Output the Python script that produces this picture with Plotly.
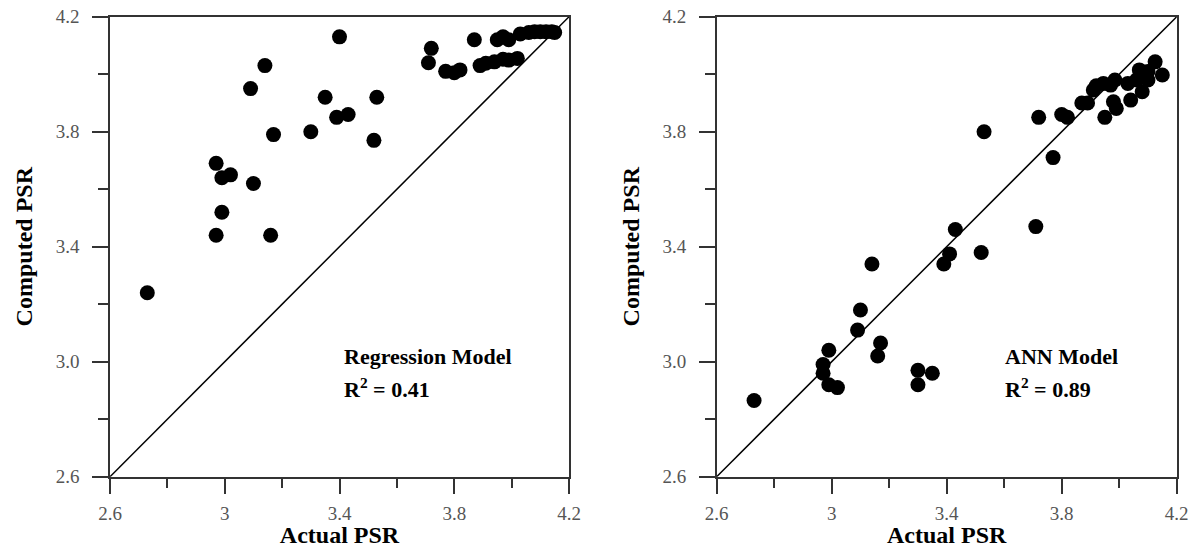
import plotly.graph_objects as go

# ---------------- data ----------------
reg_actual = [2.73, 2.97, 2.99, 3.02, 3.10, 2.99, 2.97, 3.09, 3.14, 3.17, 3.16,
              3.30, 3.35, 3.40, 3.39, 3.43, 3.52, 3.53, 3.71, 3.72, 3.77, 3.80,
              3.82, 3.87, 3.89, 3.91, 3.94, 3.97, 3.99, 4.02, 3.95, 3.97, 3.99,
              4.03, 4.06, 4.08, 4.10, 4.12, 4.14, 4.15]
reg_computed = [3.24, 3.69, 3.64, 3.65, 3.62, 3.52, 3.44, 3.95, 4.03, 3.79, 3.44,
                3.80, 3.92, 4.13, 3.85, 3.86, 3.77, 3.92, 4.04, 4.09, 4.01, 4.005,
                4.015, 4.12, 4.03, 4.038, 4.043, 4.052, 4.049, 4.055, 4.12, 4.13, 4.12,
                4.14, 4.145, 4.148, 4.148, 4.148, 4.148, 4.145]

ann_actual = [2.73, 2.99, 2.97, 2.97, 2.99, 3.02, 3.09, 3.10, 3.14, 3.17, 3.16,
              3.30, 3.30, 3.35, 3.39, 3.41, 3.43, 3.52, 3.53, 3.71, 3.72, 3.77,
              3.80, 3.82, 3.87, 3.89, 3.91, 3.92, 3.945, 3.97, 3.985, 3.95, 3.98,
              3.99, 4.03, 4.04, 4.06, 4.07, 4.08, 4.10, 4.10, 4.125, 4.15]
ann_computed = [2.865, 3.04, 2.99, 2.96, 2.92, 2.91, 3.11, 3.18, 3.34, 3.065, 3.02,
                2.97, 2.92, 2.96, 3.34, 3.375, 3.46, 3.38, 3.80, 3.47, 3.85, 3.71,
                3.86, 3.85, 3.90, 3.90, 3.945, 3.96, 3.968, 3.962, 3.98, 3.85, 3.904,
                3.881, 3.968, 3.91, 3.98, 4.015, 3.939, 3.98, 4.009, 4.043, 3.997]

line_ends = [2.6, 4.2]
x_tickvals = [2.6, 3.0, 3.4, 3.8, 4.2]
x_ticktext = ["2.6", "3", "3.4", "3.8", "4.2"]
y_tickvals = [2.6, 3.0, 3.4, 3.8, 4.2]
y_ticktext = ["2.6", "3.0", "3.4", "3.8", "4.2"]

panel_labels = ["Regression Model", "ANN Model"]
r2_labels = ["R<sup>2</sup> = 0.41", "R<sup>2</sup> = 0.89"]
x_title = "Actual PSR"
y_title = "Computed PSR"

# ---------------- figure ----------------
SERIF = "Liberation Serif, Times New Roman, serif"
fig = go.Figure()

marker = dict(color="black", size=15, line=dict(width=0))

fig.add_trace(go.Scatter(x=reg_actual, y=reg_computed, mode="markers",
                         marker=marker, xaxis="x", yaxis="y", showlegend=False))
fig.add_trace(go.Scatter(x=line_ends, y=line_ends, mode="lines",
                         line=dict(color="black", width=1.5), xaxis="x", yaxis="y",
                         showlegend=False))
fig.add_trace(go.Scatter(x=ann_actual, y=ann_computed, mode="markers",
                         marker=marker, xaxis="x2", yaxis="y2", showlegend=False))
fig.add_trace(go.Scatter(x=line_ends, y=line_ends, mode="lines",
                         line=dict(color="black", width=1.5), xaxis="x2", yaxis="y2",
                         showlegend=False))

W, H = 1194, 548
ydom = [1 - 476.7 / H, 1 - 16.7 / H]
xdom1 = [110 / W, 569 / W]
xdom2 = [716.7 / W, 1176.7 / W]

tickfont = dict(family=SERIF, size=19, color="#555")
titlefont = dict(family=SERIF, size=24, color="black", weight="bold")


def xaxis(domain, anchor):
    return dict(domain=domain, anchor=anchor, range=line_ends, automargin=False,
                tickmode="array", tickvals=x_tickvals, ticktext=x_ticktext,
                ticks="outside", ticklen=16, tickwidth=1.5, tickcolor="#333",
                ticklabelstandoff=3,
                minor=dict(tickmode="linear", tick0=2.6, dtick=0.2, ticks="outside",
                           ticklen=10, tickwidth=1.5, tickcolor="#333", showgrid=False),
                showline=True, linecolor="#333", linewidth=1.5, mirror=True,
                showgrid=False, zeroline=False, tickfont=tickfont,
                title=dict(text=x_title, font=titlefont, standoff=3))


def yaxis(anchor):
    return dict(domain=ydom, anchor=anchor, range=line_ends, automargin=False,
                tickmode="array", tickvals=y_tickvals, ticktext=y_ticktext,
                ticks="outside", ticklen=16, tickwidth=1.5, tickcolor="#333",
                ticklabelstandoff=9,
                minor=dict(tickmode="linear", tick0=2.6, dtick=0.2, ticks="outside",
                           ticklen=10, tickwidth=1.5, tickcolor="#333", showgrid=False),
                showline=True, linecolor="#333", linewidth=1.5, mirror=True,
                showgrid=False, zeroline=False, tickfont=tickfont,
                title=dict(text=y_title, font=titlefont, standoff=16))


fig.update_layout(
    width=W, height=H,
    margin=dict(l=0, r=0, t=0, b=0),
    paper_bgcolor="white", plot_bgcolor="white",
    xaxis=xaxis(xdom1, "y"), yaxis=yaxis("x"),
    xaxis2=xaxis(xdom2, "y2"), yaxis2=yaxis("x2"),
)

annfont = dict(family=SERIF, size=22, color="black", weight="bold")
for i, (xr, yr) in enumerate([("x", "y"), ("x2", "y2")]):
    xpos = 3.41 if i == 0 else 3.597
    fig.add_annotation(x=xpos, y=3.018, xref=xr, yref=yr, text=panel_labels[i],
                       showarrow=False, xanchor="left", yanchor="middle", font=annfont)
    fig.add_annotation(x=xpos, y=2.91, xref=xr, yref=yr, text=r2_labels[i],
                       showarrow=False, xanchor="left", yanchor="middle", font=annfont)

fig.write_html("out.html")
